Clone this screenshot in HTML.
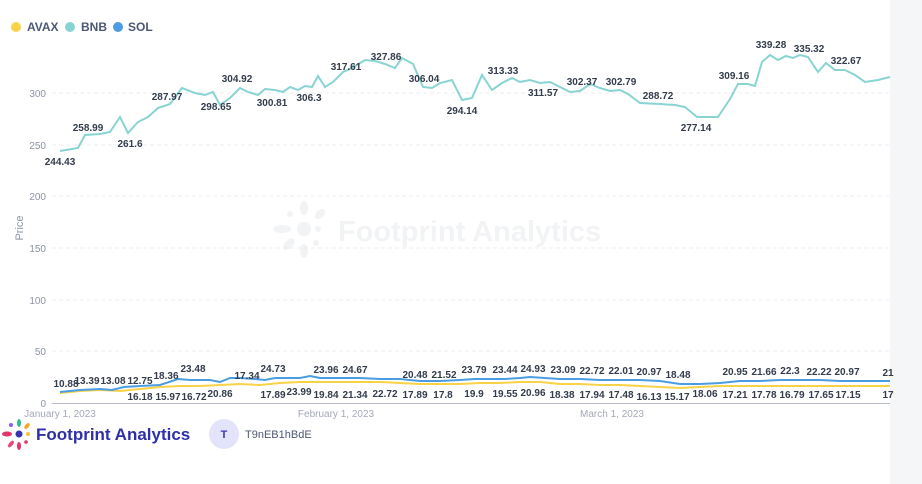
<!DOCTYPE html>
<html><head><meta charset="utf-8"><style>
body{margin:0;width:922px;height:484px;background:#fff;overflow:hidden;font-family:"Liberation Sans",sans-serif;}
svg{position:absolute;left:0;top:0}
</style></head><body>
<svg width="922" height="484" viewBox="0 0 922 484" font-family="Liberation Sans, sans-serif">
<rect x="890" y="0" width="32" height="484" fill="#f5f6f8"/>
<circle cx="16" cy="27" r="5" fill="#f8d347"/><text x="27" y="31" font-size="12" font-weight="bold" fill="#4c5773">AVAX</text>
<circle cx="70" cy="27" r="5" fill="#88d4d2"/><text x="81" y="31" font-size="12" font-weight="bold" fill="#4c5773">BNB</text>
<circle cx="118" cy="27" r="5" fill="#4b9de3"/><text x="128" y="31" font-size="12" font-weight="bold" fill="#4c5773">SOL</text>
<g stroke="#eceef1" stroke-dasharray="4,3" stroke-width="1">
<line x1="52" y1="93" x2="890" y2="93"/><line x1="52" y1="145" x2="890" y2="145"/><line x1="52" y1="196" x2="890" y2="196"/><line x1="52" y1="248" x2="890" y2="248"/><line x1="52" y1="300" x2="890" y2="300"/><line x1="52" y1="351" x2="890" y2="351"/>
</g>
<line x1="52" y1="403.5" x2="890" y2="403.5" stroke="#b8bcc6"/>
<g font-size="10" fill="#8d93a8" text-anchor="end">
<text x="46" y="97">300</text><text x="46" y="149">250</text><text x="46" y="200">200</text><text x="46" y="252">150</text><text x="46" y="304">100</text><text x="46" y="355">50</text><text x="46" y="407">0</text>
</g>
<text transform="translate(23,228) rotate(-90)" font-size="11" fill="#8d93a8" text-anchor="middle">Price</text>
<g font-size="10" fill="#a3a8b8" text-anchor="middle">
<text x="60" y="417">January 1, 2023</text><text x="336" y="417">February 1, 2023</text><text x="612" y="417">March 1, 2023</text>
</g>
<g opacity="0.45" fill="#e3e5ea">
<circle cx="304" cy="229" r="7"/><ellipse cx="282" cy="229" rx="9" ry="4"/><ellipse cx="304" cy="208" rx="4" ry="7"/><ellipse cx="304" cy="251" rx="4" ry="7"/><ellipse cx="289" cy="244" rx="4" ry="7" transform="rotate(45 289 244)"/><ellipse cx="320" cy="214" rx="4" ry="6" transform="rotate(45 320 214)"/><circle cx="290" cy="214" r="3"/><circle cx="318" cy="229" r="3"/><circle cx="316" cy="243" r="3"/>
<text x="338" y="241" font-size="29" font-weight="bold">Footprint Analytics</text>
</g>
<polyline fill="none" stroke="#88d4d2" stroke-width="2" points="60,151 72,149 78,148 85,135 100,134 110,132 120,117 128,133 138,122 148,117 158,108 170,104 182,88 195,93 205,95 213,92 220,105 230,98 240,88 248,92 258,95 265,89 275,90 283,92 290,87 298,90 305,86 312,87 318,76 325,87 333,82 343,72 352,68 365,60 375,61 385,64 395,68 402,58 413,64 423,87 432,88 440,83 452,80 462,100 472,98 482,75 492,90 502,83 512,78 520,82 530,80 540,83 550,82 560,87 570,92 580,91 590,84 600,88 610,91 620,90 628,94 640,103 660,104 675,105 685,107 697,117 712,117 718,117 730,99 738,84 748,84 755,86 762,62 770,55 778,60 786,56 793,58 800,55 808,57 818,72 826,63 835,70 845,70 855,75 865,82 878,80 890,77"/>
<polyline fill="none" stroke="#f8d347" stroke-width="2" points="60,393 80,391 100,390 120,391 140,389 160,387 180,386 200,386 220,385 240,384 260,385 280,383 300,382 320,382 340,382 360,382 380,382 400,383 420,384 440,384 460,384 480,383 500,383 520,382 540,382 560,384 580,384 600,385 620,385 640,386 660,387 680,388 700,387 720,386 740,386 760,386 780,386 800,386 820,386 840,386 860,386 890,386"/>
<polyline fill="none" stroke="#4b9de3" stroke-width="2" points="60,392 80,390 100,389 112,390 124,387 140,386 160,385 172,381 178,379 190,380 200,380 210,380 220,382 230,378 240,378 255,379 265,380 275,378 290,378 300,378 310,376 320,378 340,378 360,378 380,379 400,379 420,381 440,381 460,380 475,379 490,379 505,379 520,378 530,377 545,378 560,379 580,379 600,380 620,380 640,380 660,381 680,384 700,384 720,383 740,381 760,381 780,380 800,380 820,380 840,381 860,381 890,381"/>
<g font-size="10" font-weight="bold" fill="#333c4c" text-anchor="middle">
<text x="60" y="165">244.43</text><text x="88" y="131">258.99</text><text x="130" y="147">261.6</text><text x="167" y="100">287.97</text><text x="216" y="110">298.65</text><text x="237" y="82">304.92</text><text x="272" y="106">300.81</text><text x="309" y="101">306.3</text><text x="346" y="70">317.61</text><text x="386" y="60">327.86</text><text x="424" y="82">306.04</text><text x="462" y="114">294.14</text><text x="503" y="74">313.33</text><text x="543" y="96">311.57</text><text x="582" y="85">302.37</text><text x="621" y="85">302.79</text><text x="658" y="99">288.72</text><text x="696" y="131">277.14</text><text x="734" y="79">309.16</text><text x="771" y="48">339.28</text><text x="809" y="52">335.32</text><text x="846" y="64">322.67</text>
<text x="66" y="387">10.88</text><text x="87" y="384">13.39</text><text x="113" y="384">13.08</text><text x="140" y="384">12.75</text><text x="166" y="379">18.36</text><text x="193" y="372">23.48</text><text x="247" y="379">17.34</text><text x="273" y="372">24.73</text><text x="326" y="373">23.96</text><text x="355" y="373">24.67</text><text x="415" y="378">20.48</text><text x="444" y="378">21.52</text><text x="474" y="373">23.79</text><text x="505" y="373">23.44</text><text x="533" y="372">24.93</text><text x="563" y="373">23.09</text><text x="592" y="374">22.72</text><text x="621" y="374">22.01</text><text x="649" y="375">20.97</text><text x="678" y="378">18.48</text><text x="735" y="375">20.95</text><text x="764" y="375">21.66</text><text x="790" y="374">22.3</text><text x="819" y="375">22.22</text><text x="847" y="375">20.97</text><text x="888" y="376">21</text>
<text x="140" y="400">16.18</text><text x="168" y="400">15.97</text><text x="194" y="400">16.72</text><text x="220" y="397">20.86</text><text x="273" y="398">17.89</text><text x="299" y="395">23.99</text><text x="326" y="398">19.84</text><text x="355" y="398">21.34</text><text x="385" y="397">22.72</text><text x="415" y="398">17.89</text><text x="443" y="398">17.8</text><text x="474" y="397">19.9</text><text x="505" y="397">19.55</text><text x="533" y="396">20.96</text><text x="562" y="398">18.38</text><text x="592" y="398">17.94</text><text x="621" y="398">17.48</text><text x="649" y="400">16.13</text><text x="677" y="400">15.17</text><text x="705" y="397">18.06</text><text x="735" y="398">17.21</text><text x="764" y="398">17.78</text><text x="792" y="398">16.79</text><text x="821" y="398">17.65</text><text x="848" y="398">17.15</text><text x="888" y="398">17</text>
</g>
<g>
<circle cx="19" cy="434" r="3.5" fill="#3434b0"/>
<ellipse cx="7" cy="434" rx="5" ry="2.5" fill="#e0356a"/><ellipse cx="19" cy="423" rx="2" ry="4" fill="#2bbf8a"/><ellipse cx="19" cy="446" rx="2" ry="4" fill="#e0356a"/><ellipse cx="11" cy="444" rx="2" ry="4" fill="#e84a7a" transform="rotate(40 11 444)"/><ellipse cx="27" cy="426" rx="2" ry="3.5" fill="#f5a623" transform="rotate(40 27 426)"/><circle cx="11" cy="425" r="2" fill="#8b5cf6"/><circle cx="28" cy="434" r="2" fill="#f5c242"/><circle cx="26" cy="442" r="1.8" fill="#e0356a"/>
<text x="36" y="440" font-size="17" font-weight="bold" fill="#2f2fa8">Footprint Analytics</text>
<circle cx="224" cy="434" r="15" fill="#e3e3fb"/><text x="224" y="438" font-size="11" font-weight="bold" fill="#3a3ab0" text-anchor="middle">T</text>
<text x="245" y="438" font-size="11" fill="#4c5773">T9nEB1hBdE</text>
</g>
</svg>
</body></html>
